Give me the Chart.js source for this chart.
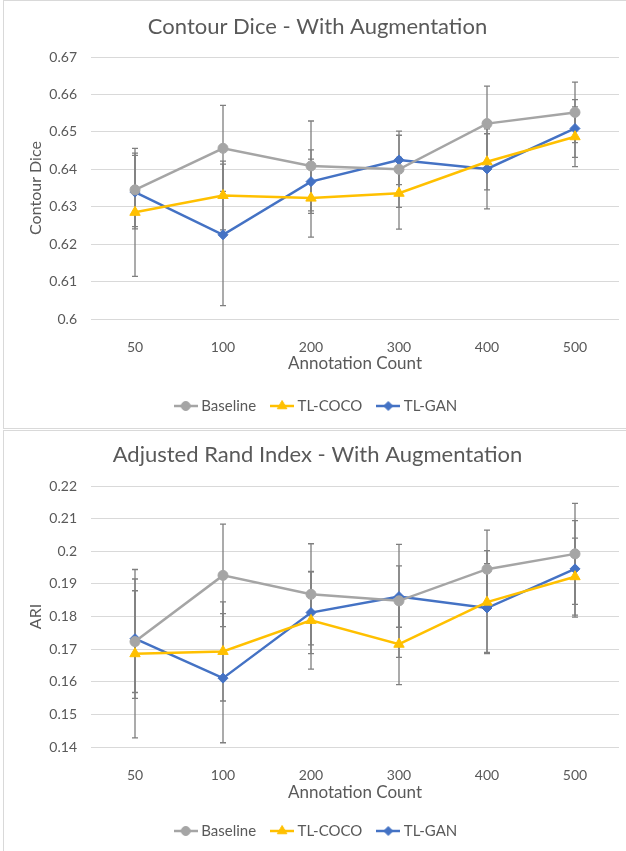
<!DOCTYPE html>
<html>
<head>
<meta charset="utf-8">
<script src="https://cdn.jsdelivr.net/npm/chart.js@4.4.1/dist/chart.umd.min.js"></script>
<style>
  body { margin: 0; background: #fff; width: 626px; height: 851px; overflow: hidden; position: relative; }
  .frame { position: absolute; left: 3px; width: 700px; border: 1px solid #d9d9d9; box-sizing: border-box; }
  #frameTop { top: 0; height: 429px; }
  #frameBottom { top: 430px; height: 440px; }
  .box { position: absolute; left: 0; width: 626px; }
  #boxTop { top: 0; height: 428px; }
  #boxBottom { top: 430px; height: 421px; }
</style>
</head>
<body>
<div class="frame" id="frameTop"></div>
<div class="frame" id="frameBottom"></div>
<div class="box" id="boxTop"><canvas id="diceChart"></canvas></div>
<div class="box" id="boxBottom"><canvas id="ariChart"></canvas></div>
<script>
// Categorias (eixo x)
const annotationCounts = ['50', '100', '200', '300', '400', '500'];

// Contour Dice
const diceBaseline = [0.6345, 0.6456, 0.6409, 0.6400, 0.6522, 0.6552];
const diceBaselineErr = [0.0098, 0.0115, 0.0120, 0.0102, 0.0100, 0.0081];
const diceCoco = [0.6285, 0.6330, 0.6323, 0.6336, 0.6420, 0.6487];
const diceCocoErr = [0.0171, 0.0092, 0.0104, 0.0096, 0.0075, 0.0080];
const diceGan = [0.6339, 0.6225, 0.6367, 0.6425, 0.6401, 0.6509];
const diceGanErr = [0.0098, 0.0189, 0.0085, 0.0066, 0.0107, 0.0077];
const diceRange = [0.6, 0.67];

// Adjusted Rand Index
const ariBaseline = [0.1723, 0.1926, 0.1868, 0.1848, 0.1945, 0.1992];
const ariBaselineErr = [0.0156, 0.0157, 0.0155, 0.0173, 0.0120, 0.0155];
const ariCoco = [0.1686, 0.1693, 0.1788, 0.1715, 0.1844, 0.1922];
const ariCocoErr = [0.0258, 0.0152, 0.0149, 0.0124, 0.0158, 0.0118];
const ariGan = [0.1732, 0.1611, 0.1812, 0.1861, 0.1826, 0.1946];
const ariGanErr = [0.0183, 0.0198, 0.0126, 0.0094, 0.0136, 0.0148];
const ariRange = [0.14, 0.22];

const seriesNames = ['Baseline', 'TL-COCO', 'TL-GAN'];

const FONT = 'Lato, "Noto Sans", sans-serif';
const TEXT = '#595959';
const estilos = [
    { color: '#a5a5a5', pointStyle: 'circle', radius: 5 },
    { color: '#ffc000', pointStyle: 'triangle', radius: 6 },
    { color: '#4472c4', pointStyle: 'rectRot', radius: 5 }
];

// icone da legenda: linha + marcador, como no Excel
function iconeLegenda(est) {
    const c = document.createElement('canvas');
    c.width = 24; c.height = 14;
    const ctx = c.getContext('2d');
    ctx.strokeStyle = est.color;
    ctx.lineWidth = 2.5;
    ctx.beginPath();
    ctx.moveTo(0, 7);
    ctx.lineTo(24, 7);
    ctx.stroke();
    ctx.fillStyle = est.color;
    ctx.lineWidth = 1;
    Chart.helpers.drawPoint(ctx, { pointStyle: est.pointStyle, radius: est.radius - 0.5, rotation: 0, borderWidth: 1 }, 12, 7);
    return c;
}

// barras de erro desenhadas pelas escalas do gráfico
const errorBarsPlugin = {
    id: 'errorBars',
    beforeDatasetsDraw(chart) {
        const ctx = chart.ctx;
        const yScale = chart.scales.y;
        ctx.save();
        ctx.strokeStyle = '#7f7f7f';
        ctx.lineWidth = 1.3;
        chart.data.datasets.forEach((ds, i) => {
            const meta = chart.getDatasetMeta(i);
            meta.data.forEach((pt, j) => {
                const v = ds.data[j];
                const e = ds.errorBars[j];
                const yTop = yScale.getPixelForValue(v + e);
                const yBot = yScale.getPixelForValue(v - e);
                ctx.beginPath();
                ctx.moveTo(pt.x, yTop);
                ctx.lineTo(pt.x, yBot);
                ctx.moveTo(pt.x - 3, yTop);
                ctx.lineTo(pt.x + 3, yTop);
                ctx.moveTo(pt.x - 3, yBot);
                ctx.lineTo(pt.x + 3, yBot);
                ctx.stroke();
            });
        });
        ctx.restore();
    }
};

function criarGrafico(id, cfg) {
    const datasets = cfg.series.map((vals, i) => ({
        label: seriesNames[i],
        data: vals,
        errorBars: cfg.errs[i],
        borderColor: estilos[i].color,
        backgroundColor: estilos[i].color,
        borderWidth: 2.5,
        pointStyle: estilos[i].pointStyle,
        pointRadius: estilos[i].radius,
        pointBorderWidth: 1,
        tension: 0
    }));
    const icones = estilos.map(iconeLegenda);

    return new Chart(document.getElementById(id), {
        type: 'line',
        data: { labels: annotationCounts, datasets: datasets },
        options: {
            responsive: true,
            maintainAspectRatio: false,
            animation: false,
            layout: { padding: { left: 16, right: 7, top: 0, bottom: cfg.padBottom } },
            plugins: {
                title: {
                    display: true,
                    text: cfg.title,
                    color: TEXT,
                    font: { family: FONT, size: 22, weight: 'normal' },
                    padding: { top: cfg.titleTop, bottom: cfg.titleBottom }
                },
                legend: {
                    position: 'bottom',
                    labels: {
                        usePointStyle: true,
                        pointStyleWidth: 16,
                        color: TEXT,
                        font: { family: FONT, size: 15 },
                        padding: 18,
                        generateLabels(chart) {
                            return chart.data.datasets.map((ds, i) => ({
                                text: ds.label,
                                pointStyle: icones[i],
                                fillStyle: ds.borderColor,
                                strokeStyle: ds.borderColor,
                                fontColor: TEXT,
                                lineWidth: 0,
                                hidden: false,
                                datasetIndex: i
                            }));
                        }
                    }
                },
                tooltip: { enabled: false }
            },
            scales: {
                x: {
                    offset: true,
                    grid: { display: false },
                    border: { display: false },
                    ticks: { color: TEXT, font: { family: FONT, size: 14 }, padding: 11.6 },
                    title: {
                        display: true,
                        text: 'Annotation Count',
                        color: TEXT,
                        font: { family: FONT, size: 17 },
                        padding: { top: 0, bottom: cfg.xTitleBottom }
                    },
                    afterFit(scale) { scale.height = cfg.xHeight; }
                },
                y: {
                    min: cfg.range[0],
                    max: cfg.range[1],
                    grid: { color: '#d9d9d9', drawTicks: false, lineWidth: 1 },
                    border: { display: false },
                    ticks: {
                        stepSize: 0.01,
                        color: TEXT,
                        padding: 14,
                        font: { family: FONT, size: 14 },
                        callback: v => String(Number(v.toFixed(2)))
                    },
                    title: {
                        display: true,
                        text: cfg.yTitle,
                        color: TEXT,
                        font: { family: FONT, size: 16 },
                        padding: { top: 10.4, bottom: 0 }
                    },
                    afterFit(scale) { scale.width = 75; }
                }
            }
        },
        plugins: [errorBarsPlugin]
    });
}

criarGrafico('diceChart', {
    title: 'Contour Dice - With Augmentation',
    yTitle: 'Contour Dice',
    series: [diceBaseline, diceCoco, diceGan],
    errs: [diceBaselineErr, diceCocoErr, diceGanErr],
    range: diceRange,
    titleTop: 13.8, titleBottom: 16.8,
    padBottom: 4.5, xHeight: 61.5, xTitleBottom: 6.3
});

criarGrafico('ariChart', {
    title: 'Adjusted Rand Index - With Augmentation',
    yTitle: 'ARI',
    series: [ariBaseline, ariCoco, ariGan],
    errs: [ariBaselineErr, ariCocoErr, ariGanErr],
    range: ariRange,
    titleTop: 11.8, titleBottom: 17.8,
    padBottom: 2.5, xHeight: 58.5, xTitleBottom: 2.3
});
</script>
</body>
</html>
